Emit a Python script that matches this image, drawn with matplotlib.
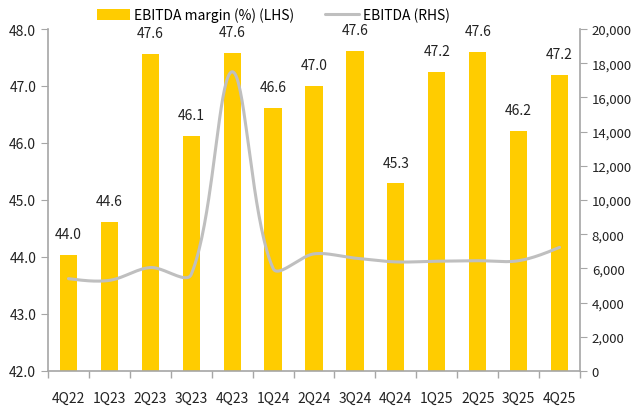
""" EBITDA margin vs EBITDA, quarterly. """

import numpy as np
import matplotlib
matplotlib.use('Agg')
import matplotlib.pyplot as plt
from matplotlib.ticker import FuncFormatter

quarters = ['4Q22', '1Q23', '2Q23', '3Q23', '4Q23', '1Q24', '2Q24',
            '3Q24', '4Q24', '1Q25', '2Q25', '3Q25', '4Q25']
margin = [44.04, 44.62, 47.56, 46.13, 47.58, 46.62, 47.00,
          47.62, 45.29, 47.24, 47.59, 46.21, 47.19]
ebitda = [5400, 5300, 6050, 5650, 17500, 6000, 6850,
          6600, 6380, 6420, 6450, 6450, 7230]

YELLOW = '#FFCC00'
GREY = '#BFBFBF'
SPINE = '#A6A6A6'
TEXT = '#222222'

plt.rcParams['font.family'] = ['Noto Sans CJK KR', 'DejaVu Sans']

W, H = 635, 410
L, B, PW, PH = 48, 38, 532, 342


def smooth(x, y, sx, sy, t=0.33, n=40):
    """ Bezier curve through the points, control arms scaled by segment length
    (works in pixel space so the arms match what is seen) """
    px = np.asarray(x, float) * sx
    py = np.asarray(y, float) * sy
    pts = np.column_stack([px, py])
    m = len(pts)
    c_in = pts.copy()
    c_out = pts.copy()
    for i in range(1, m-1):
        d01 = np.hypot(*(pts[i]-pts[i-1]))
        d12 = np.hypot(*(pts[i+1]-pts[i]))
        tan = pts[i+1] - pts[i-1]
        c_in[i] = pts[i] - t*d01/(d01+d12)*tan
        c_out[i] = pts[i] + t*d12/(d01+d12)*tan
    c_out[0] = pts[0] + (c_in[1]-pts[0])*0.5
    c_in[-1] = pts[-1] + (c_out[-2]-pts[-1])*0.5
    u = np.linspace(0, 1, n)[:, None]
    out = []
    for i in range(m-1):
        p0, p1, p2, p3 = pts[i], c_out[i], c_in[i+1], pts[i+1]
        out.append((1-u)**3*p0 + 3*(1-u)**2*u*p1 + 3*(1-u)*u**2*p2 + u**3*p3)
    out = np.vstack(out)
    return out[:, 0]/sx, out[:, 1]/sy


fig = plt.figure(figsize=(W/100, H/100), dpi=100)
ax = fig.add_axes([L/W, B/H, PW/W, PH/H])
ax2 = ax.twinx()

x = np.arange(len(quarters))
bars = ax.bar(x, margin, width=0.42, color=YELLOW, zorder=2)
for xi, v in zip(x, margin):
    ax.annotate(f'{v:.1f}', (xi, v), xytext=(0, 10), textcoords='offset points',
                ha='center', va='bottom', fontsize=10, color=TEXT)

# pixel scale: px per category and px per unit of EBITDA
cx, cy = smooth(x, ebitda, PW/len(quarters), PH/20000)
line, = ax2.plot(cx, cy, color=GREY, lw=2.2, solid_capstyle='round')

ax.set_xlim(-0.5, len(quarters)-0.5)
ax.set_ylim(42, 48)
ax.set_yticks(np.arange(42, 48.1, 1))
ax.yaxis.set_major_formatter(FuncFormatter(lambda v, p: f'{v:.1f}'))
ax2.set_ylim(0, 20000)
ax2.set_yticks(np.arange(0, 20001, 2000))
ax2.yaxis.set_major_formatter(FuncFormatter(lambda v, p: f'{v:,.0f}'))

ax.set_xticks(x)
ax.set_xticklabels(quarters)
ax.set_xticks(np.arange(-0.5, len(quarters), 1), minor=True)
ax.tick_params(axis='x', which='major', length=0, pad=14)
ax.tick_params(axis='x', which='minor', length=5, color=SPINE, width=1)

for a in (ax, ax2):
    for s in a.spines.values():
        s.set_color(SPINE)
        s.set_linewidth(1.2)
    a.spines['top'].set_visible(False)
    a.tick_params(axis='y', color=SPINE, length=5, labelsize=9.5, labelcolor=TEXT)
ax.tick_params(axis='y', labelsize=10)
ax.tick_params(axis='x', labelsize=10, labelcolor=TEXT)
ax.spines['right'].set_visible(False)
ax2.spines['left'].set_visible(False)
ax2.spines['bottom'].set_visible(False)

fig.legend([bars, line], ['EBITDA margin (%) (LHS)', 'EBITDA (RHS)'],
           loc='center left', bbox_to_anchor=(97/W, 1 - 16/H), ncol=2, frameon=False,
           fontsize=10, handlelength=2.4, handleheight=0.8, handletextpad=0.3,
           columnspacing=2.2, borderaxespad=0, borderpad=0)

fig.savefig('out.png', dpi=100)
